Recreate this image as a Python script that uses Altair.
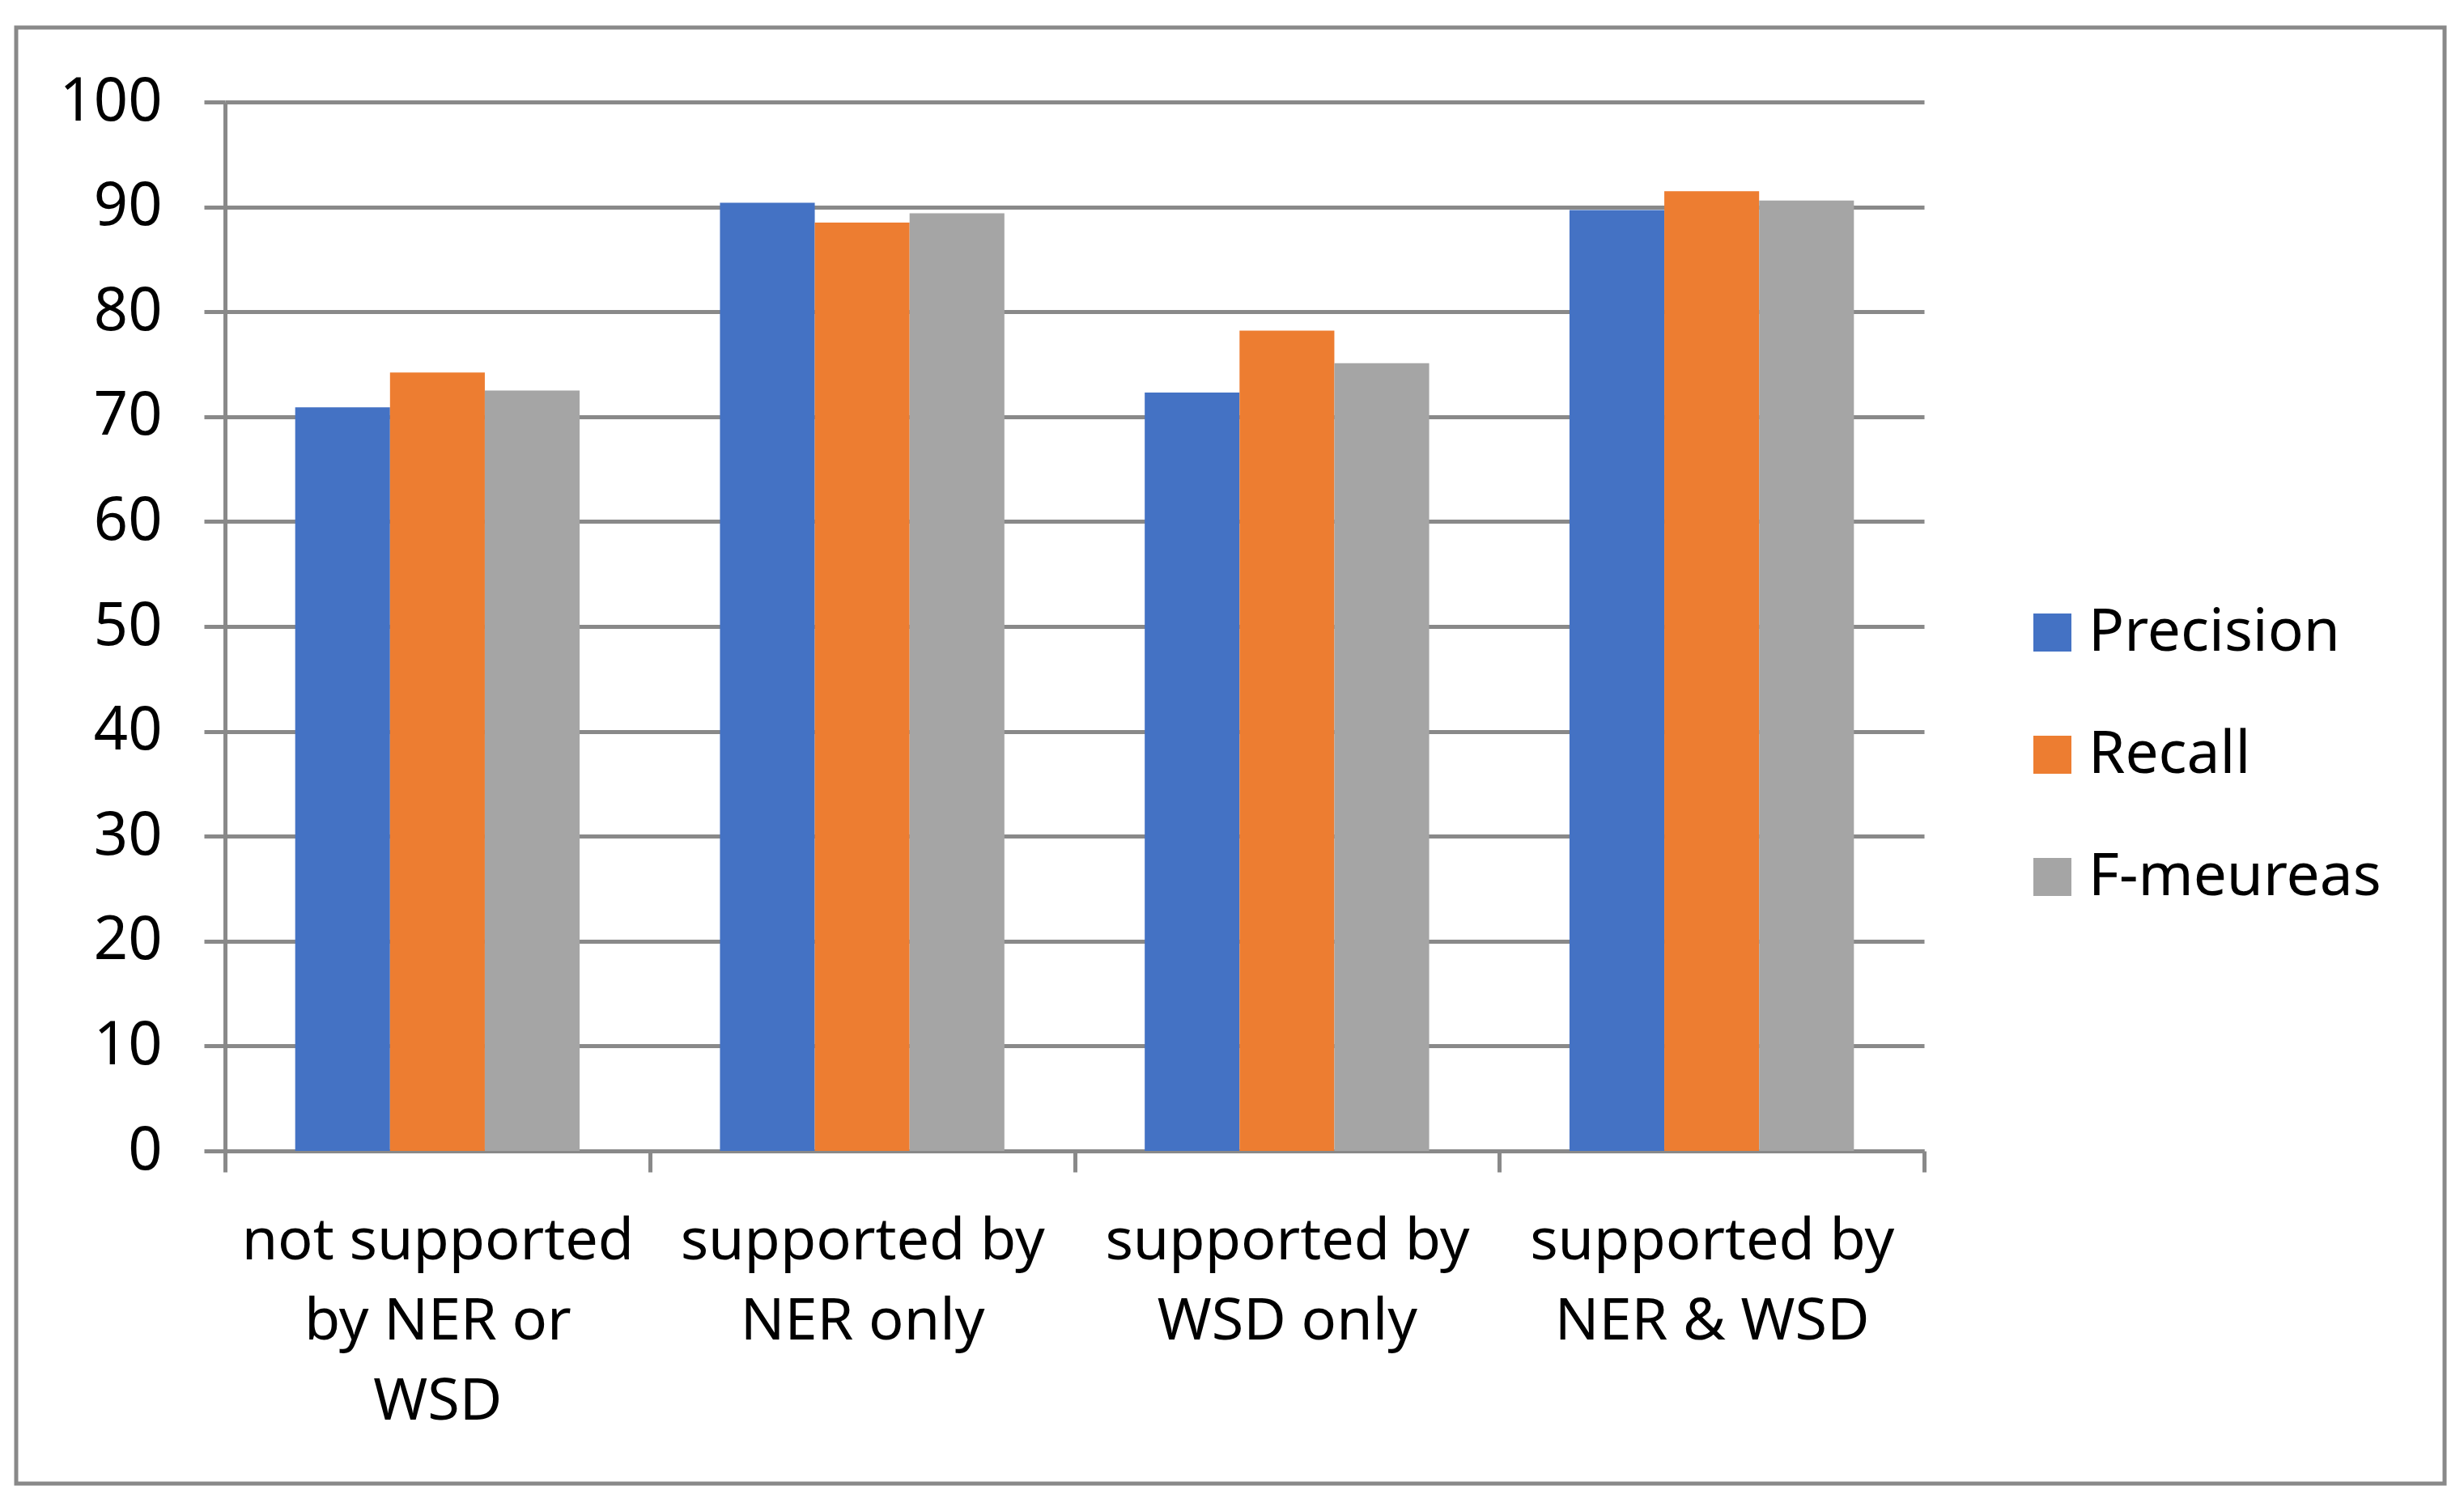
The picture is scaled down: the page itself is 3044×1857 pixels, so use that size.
import altair as alt
import pandas as pd

categories = [
    "not supported\nby  NER or\nWSD",
    "supported by\nNER only",
    "supported by\nWSD only",
    "supported by\nNER & WSD",
]
series = ["Precision", "Recall", "F-meureas"]
precision = [70.9, 90.4, 72.3, 89.7]
recall = [74.2, 88.5, 78.2, 91.5]
fmeasure = [72.5, 89.4, 75.1, 90.6]
colors = ["#4472C4", "#ED7D31", "#A5A5A5"]
y_ticks = [0, 10, 20, 30, 40, 50, 60, 70, 80, 90, 100]

rows = []
for s, vals in zip(series, [precision, recall, fmeasure]):
    for c, v in zip(categories, vals):
        rows.append({"category": c, "series": s, "value": v})
df = pd.DataFrame(rows)

FONT = "Noto Sans"
GRAY = "#898989"

bars = alt.Chart(df).mark_bar().encode(
    x=alt.X(
        "category:N",
        sort=categories,
        title=None,
        scale=alt.Scale(paddingInner=0, paddingOuter=0),
        axis=alt.Axis(
            labelExpr="split(datum.label, '\\n')",
            labelAngle=0,
            labelFontSize=72,
            labelFont=FONT,
            labelColor="#000000",
            labelLineHeight=99,
            labelPadding=50,
            labelBaseline="top",
            labelLimit=1000,
            tickBand="extent",
            tickSize=26,
            tickWidth=5,
            tickColor=GRAY,
            domainColor=GRAY,
            domainWidth=5,
            grid=False,
        ),
    ),
    xOffset=alt.XOffset(
        "series:N", sort=series, scale=alt.Scale(paddingInner=0, paddingOuter=0.74)
    ),
    y=alt.Y(
        "value:Q",
        title=None,
        scale=alt.Scale(domain=[0, 100], nice=False),
        axis=alt.Axis(
            values=y_ticks,
            labelFontSize=74,
            labelFont=FONT,
            labelColor="#000000",
            labelPadding=52,
            tickSize=26,
            tickWidth=5,
            tickColor=GRAY,
            domainColor=GRAY,
            domainWidth=5,
            grid=True,
            gridColor=GRAY,
            gridWidth=5,
        ),
    ),
    color=alt.Color(
        "series:N",
        sort=series,
        scale=alt.Scale(domain=series, range=colors),
        legend=alt.Legend(
            title=None,
            orient="none",
            legendX=2221,
            legendY=619,
            padding=0,
            symbolType="square",
            symbolSize=2209,
            symbolStrokeWidth=0,
            symbolOpacity=1,
            labelFontSize=73,
            labelFont=FONT,
            labelColor="#000000",
            labelOffset=8,
            rowPadding=77,
            labelLimit=600,
        ),
    ),
)

border = alt.Chart(pd.DataFrame({"a": [0]})).mark_rect(
    fill="transparent", stroke=GRAY, strokeWidth=5
).encode(
    x=alt.value(-258),
    x2=alt.value(2742),
    y=alt.value(-92),
    y2=alt.value(1707),
)

chart = alt.layer(bars, border).properties(
    width=2099,
    height=1296,
    background="white",
    autosize=alt.AutoSizeParams(type="none"),
    padding={"left": 270, "top": 118, "right": 650, "bottom": 420},
).configure_view(stroke=None)

chart.save("out.html", embed_options={"renderer": "svg", "actions": False})
